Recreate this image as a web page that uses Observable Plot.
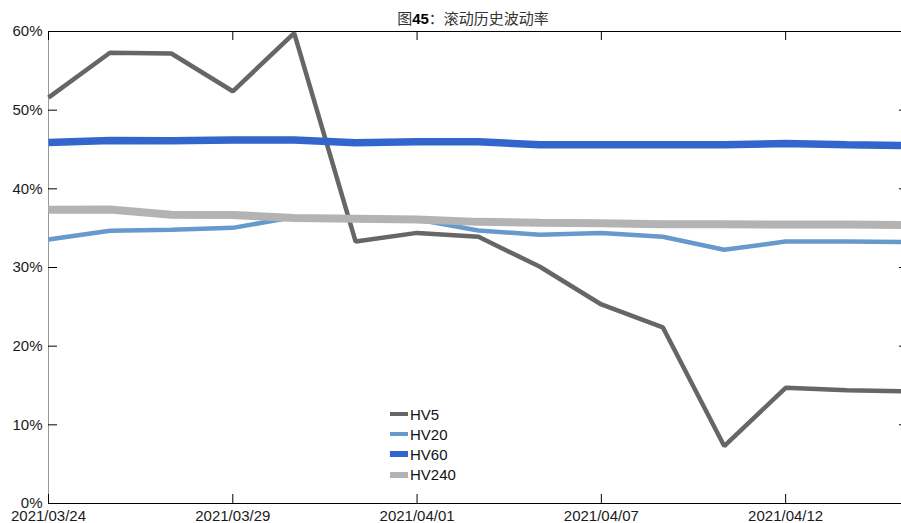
<!DOCTYPE html>
<html><head><meta charset="utf-8">
<script src="https://cdn.jsdelivr.net/npm/d3@7"></script>
<script src="https://cdn.jsdelivr.net/npm/@observablehq/plot@0.6"></script>
<style>
html,body{margin:0;padding:0;overflow:hidden;background:#fff;}
#wrap{position:relative;width:901px;height:523px;overflow:hidden;font-family:"Liberation Sans",Arial,"Noto Sans CJK SC",sans-serif;}
#title{position:absolute;left:48px;width:850px;top:10px;height:18px;line-height:18px;text-align:center;font-size:15px;color:#333;font-family:"Liberation Sans","Noto Sans CJK SC",sans-serif;white-space:nowrap;}
#title b{font-weight:bold;color:#000;}
#legend{position:absolute;left:390px;top:404px;font-size:15px;color:#111;}
.row{display:flex;align-items:center;height:20.2px;}
.sw{width:18px;margin-right:2px;}
#chart svg{max-width:none;}
</style></head><body>
<div id="wrap"><div id="chart"></div><div id="title">图<b>45</b>：滚动历史波动率</div><div id="legend"></div></div>
<script>
// ---- data ----
const dates = ["2021/03/24","2021/03/25","2021/03/26","2021/03/29","2021/03/30","2021/03/31","2021/04/01","2021/04/02","2021/04/06","2021/04/07","2021/04/08","2021/04/09","2021/04/12","2021/04/13","2021/04/14"];
const hv5   = [51.6, 57.3, 57.2, 52.4, 59.8, 33.3, 34.4, 33.9, 30.1, 25.3, 22.4, 7.3, 14.7, 14.4, 14.25];
const hv20  = [33.56, 34.66, 34.8, 35.04, 36.4, 36.2, 36.1, 34.7, 34.15, 34.4, 33.9, 32.25, 33.3, 33.3, 33.25];
const hv60  = [45.9, 46.15, 46.1, 46.2, 46.2, 45.85, 46.0, 46.0, 45.6, 45.6, 45.6, 45.6, 45.75, 45.6, 45.5];
const hv240 = [37.33, 37.37, 36.7, 36.67, 36.3, 36.2, 36.1, 35.8, 35.7, 35.63, 35.5, 35.5, 35.47, 35.47, 35.38];
const seriesNames = ["HV5", "HV20", "HV60", "HV240"];
const yTicks = [0, 10, 20, 30, 40, 50, 60];
const xTickIdx = [0, 3, 6, 9, 12];

// ---- styles ----
const colors = {HV5: "#666666", HV20: "#6699cc", HV60: "#3366cc", HV240: "#b3b3b3"};
const widths = {HV5: 4.5, HV20: 4.5, HV60: 7.5, HV240: 8};
const swatchH = {HV5: 4, HV20: 4, HV60: 6, HV240: 6};

const seriesVals = {HV5: hv5, HV20: hv20, HV60: hv60, HV240: hv240};
const table = seriesNames.flatMap(s => seriesVals[s].map((v, i) => ({s, i, v})));

const W = 908, H = 523, mL = 48, mR = 0, mT = 31, mB = 20;
const frameW = W - mL - mR, frameH = H - mT - mB, tk = 9;

const chart = Plot.plot({
  width: W, height: H,
  marginLeft: mL, marginRight: mR, marginTop: mT, marginBottom: mB,
  style: {fontFamily: "'Liberation Sans', Arial, sans-serif", fontSize: "15px", color: "#1a1a1a", background: "white", maxWidth: "none"},
  x: {domain: [0, dates.length - 1]},
  y: {domain: [0, 60]},
  marks: [
    Plot.ruleX([0], {stroke: "#999"}),
    Plot.ruleX([dates.length - 1], {stroke: "#000"}),
    Plot.ruleY([0], {stroke: "#000"}),
    Plot.ruleY([60], {stroke: "#000"}),
    Plot.tickY(yTicks, {y: d => d, stroke: "#000", insetRight: frameW - tk}),
    Plot.tickY(yTicks, {y: d => d, stroke: "#000", insetLeft: frameW - tk}),
    Plot.tickX(xTickIdx, {x: d => d, stroke: "#000", insetTop: frameH - tk}),
    Plot.tickX(xTickIdx, {x: d => d, stroke: "#000", insetBottom: frameH - tk}),
    Plot.axisY({ticks: yTicks, tickFormat: d => d + "%", tickSize: 0, tickPadding: 6, label: null, fontSize: 15}),
    Plot.axisX({ticks: xTickIdx, tickFormat: i => dates[i], tickSize: 0, tickPadding: 7, label: null, fontSize: 15}),
    ...seriesNames.map(s => Plot.line(table.filter(d => d.s === s), {
      x: "i", y: "v", stroke: colors[s], strokeWidth: widths[s],
      strokeLinejoin: "miter", strokeLinecap: "butt"
    }))
  ]
});
document.getElementById("chart").appendChild(chart);

const legend = document.getElementById("legend");
seriesNames.forEach(s => {
  const row = document.createElement("div");
  row.className = "row";
  const sw = document.createElement("div");
  sw.className = "sw";
  sw.style.height = swatchH[s] + "px";
  sw.style.background = colors[s];
  const t = document.createElement("span");
  t.textContent = s;
  row.appendChild(sw); row.appendChild(t);
  legend.appendChild(row);
});
</script>
</body></html>
